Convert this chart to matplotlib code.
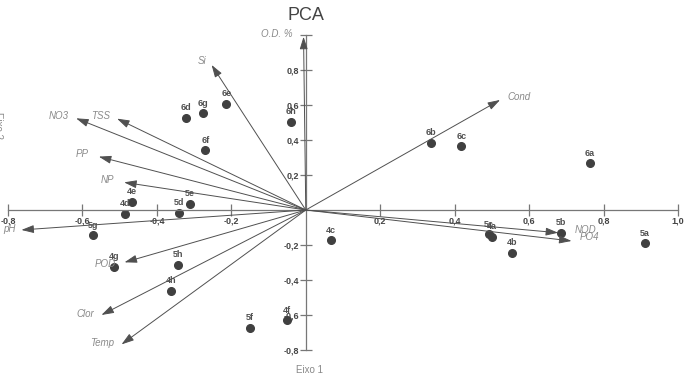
import numpy as np
import matplotlib.pyplot as plt

plt.rcParams['font.family'] = ['Liberation Sans', 'DejaVu Sans']

# sample scores (Eixo 1, Eixo 2)
sample_names = ['4a', '4b', '4c', '4d', '4e', '4f', '4g', '4h',
                '5a', '5b', '5c', '5d', '5e', '5f', '5g', '5h',
                '6a', '6b', '6c', '6d', '6e', '6f', '6g', '6h']
sample_x = [0.499, 0.553, 0.067, -0.485, -0.467, -0.051, -0.515, -0.363,
            0.910, 0.685, 0.492, -0.341, -0.311, -0.151, -0.572, -0.342,
            0.763, 0.336, 0.418, -0.321, -0.213, -0.270, -0.277, -0.040]
sample_y = [-0.152, -0.246, -0.173, -0.023, 0.046, -0.629, -0.324, -0.463,
            -0.189, -0.130, -0.139, -0.017, 0.036, -0.672, -0.145, -0.314,
            0.267, 0.385, 0.364, 0.526, 0.607, 0.341, 0.552, 0.505]

# variable loadings (arrow tips)
var_names = ['O.D. %', 'Si', 'Cond', 'NO3', 'TSS', 'PP', 'NP', 'pH',
             'POD', 'Clor', 'Temp', 'NOD', 'PO4']
var_x = [-0.006, -0.253, 0.522, -0.617, -0.507, -0.556, -0.488, -0.764,
         -0.487, -0.549, -0.495, 0.678, 0.714]
var_y = [0.990, 0.829, 0.629, 0.524, 0.522, 0.305, 0.158, -0.114,
         -0.299, -0.600, -0.768, -0.130, -0.177]

ticks = [-0.8, -0.6, -0.4, -0.2, 0.2, 0.4, 0.6, 0.8, 1.0]
x_tick_labels = ['-0,8', '-0,6', '-0,4', '-0,2', '0,2', '0,4', '0,6', '0,8', '1,0']
y_tick_labels = ['-0,8', '-0,6', '-0,4', '-0,2', '0,2', '0,4', '0,6', '0,8', '']

W, H = 685, 382
fig = plt.figure(figsize=(W / 100, H / 100), dpi=100)
ax = fig.add_axes([8 / W, (H - 350) / H, 670 / W, 315 / H])
ax.set_xlim(-0.8, 1.0)
ax.set_ylim(-0.8, 1.0)

for s in ['top', 'right']:
    ax.spines[s].set_visible(False)
for s in ['left', 'bottom']:
    ax.spines[s].set_position('zero')
    ax.spines[s].set_color('#777777')
    ax.spines[s].set_linewidth(0.9)

ax.set_xticks(ticks)
ax.set_xticklabels(x_tick_labels)
ax.set_yticks(ticks)
ax.set_yticklabels(y_tick_labels)
ax.tick_params(direction='inout', length=8, width=0.9, color='#777777',
               labelsize=6.5, labelcolor='#444444', pad=1)
for lab in ax.get_xticklabels() + ax.get_yticklabels():
    lab.set_fontweight('bold')

# arrows
for name, x, y in zip(var_names, var_x, var_y):
    ax.annotate('', xy=(x, y), xytext=(0, 0),
                arrowprops=dict(arrowstyle='-|>,head_length=0.75,head_width=0.24',
                                color='#505050', lw=0.7, shrinkA=0, shrinkB=0),
                annotation_clip=False)

# variable labels
label_off = {
    'O.D. %': (-8, 2, 'right'), 'Si': (-4, 3, 'right'), 'Cond': (5, 2, 'left'),
    'NO3': (-5, 2, 'right'), 'TSS': (-5, 2, 'right'), 'PP': (-7, 2, 'right'),
    'NP': (-7, 2, 'right'), 'pH': (-4, 1, 'right'), 'POD': (-6, -1, 'right'),
    'Clor': (-5, 1, 'right'), 'Temp': (-5, 1, 'right'), 'NOD': (12, 2, 'left'),
    'PO4': (6, 3, 'left'),
}
for name, x, y in zip(var_names, var_x, var_y):
    dx, dy, ha = label_off[name]
    ax.annotate(name, xy=(x, y), xytext=(dx, dy), textcoords='offset points',
                ha=ha, va='center', fontsize=7, fontstyle='italic',
                color='#8a8a8a', annotation_clip=False)

# samples
ax.plot(sample_x, sample_y, 'o', color='#404040', markersize=5.5, clip_on=False)
for name, x, y in zip(sample_names, sample_x, sample_y):
    ax.annotate(name, xy=(x, y), xytext=(0, 4), textcoords='offset points',
                ha='center', va='bottom', fontsize=6.5, fontweight='bold',
                color='#505050', annotation_clip=False)

fig.text(306 / W, 1 - 15 / H, 'PCA', ha='center', va='center',
         fontsize=13, color='#444444')
fig.text(310 / W, 1 - 370 / H, 'Eixo 1', ha='center', va='center',
         fontsize=7, color='#888888')
fig.text(-2 / W, 1 - 126 / H, 'Eixo 2', ha='center', va='center',
         fontsize=7, color='#888888', rotation=-90)

fig.savefig('out.png', dpi=100)
